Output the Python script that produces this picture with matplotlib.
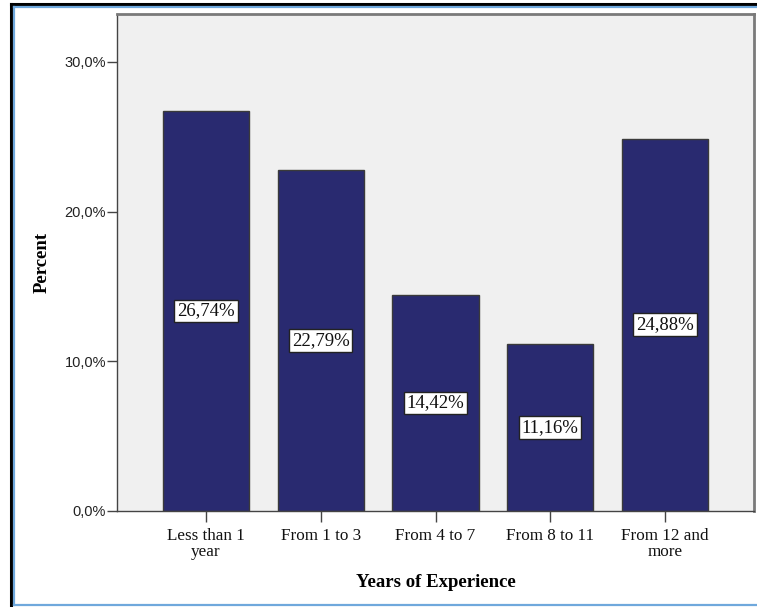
import matplotlib.pyplot as plt
from matplotlib.lines import Line2D

# Years of experience distribution
categories = ["Less than 1\nyear", "From 1 to 3", "From 4 to 7", "From 8 to 11", "From 12 and\nmore"]
percents = [26.74, 22.79, 14.42, 11.16, 24.88]
y_ticks = [0, 10, 20, 30]

W, H = 757, 607
BAR_COLOR = "#292a70"
PANEL_COLOR = "#f0f0f0"
SERIF = "Liberation Serif"
SANS = "Liberation Sans"

fig = plt.figure(figsize=(W / 100, H / 100), dpi=100)
fig.patch.set_facecolor("white")


def fy(y):
    """Pixel row (from the top) to figure fraction."""
    return 1 - y / H


# outer frame: black rule with a light blue inner rule
fig.add_artist(Line2D([11 / W, 11 / W], [0, fy(4)], color="black", lw=2.2))
fig.add_artist(Line2D([11 / W, 1], [fy(4)] * 2, color="black", lw=2.2))
fig.add_artist(Line2D([14 / W, 14 / W], [fy(605), fy(7)], color="#6fa8dc", lw=1.6))
fig.add_artist(Line2D([14 / W, 1], [fy(7)] * 2, color="#6fa8dc", lw=1.6))
fig.add_artist(Line2D([14 / W, 1], [fy(605)] * 2, color="#6fa8dc", lw=1.6))

left, right, top, bottom = 117, 754, 14, 511
ax = fig.add_axes([left / W, fy(bottom), (right - left) / W, (bottom - top) / H])
ax.set_facecolor(PANEL_COLOR)

x = list(range(len(categories)))
ax.bar(x, percents, width=0.75, color=BAR_COLOR, edgecolor="#3a3a3a", linewidth=1.0, zorder=2)

for xi, v in zip(x, percents):
    ax.text(xi, v / 2, f"{v:.2f}%".replace(".", ","), ha="center", va="center",
            family=SERIF, fontsize=13.5, color="#111111", zorder=3,
            bbox=dict(boxstyle="square,pad=0.15", facecolor="white", edgecolor="#222222", linewidth=1.0))

ax.set_xlim(-0.776, 4.776)
ax.set_ylim(0, 33.2)

ax.set_yticks(y_ticks)
ax.set_yticklabels([f"{t:.1f}%".replace(".", ",") for t in y_ticks], family=SANS, fontsize=10.5, color="#222222")
ax.set_xticks(x)
ax.set_xticklabels(categories, family=SERIF, fontsize=12.3, color="#111111", linespacing=1.05)
ax.tick_params(axis="y", direction="out", length=7, width=1.0, color="#444444", pad=1)
ax.tick_params(axis="x", direction="out", length=8, width=1.0, color="#444444", pad=4)

for side in ("left", "bottom"):
    ax.spines[side].set_color("#444444")
    ax.spines[side].set_linewidth(1.0)
for side in ("top", "right"):
    ax.spines[side].set_color("#7a7a7a")
    ax.spines[side].set_linewidth(2.0)

ax.set_xlabel("Years of Experience", family=SERIF, fontsize=13.5, fontweight="bold", labelpad=10)
ax.set_ylabel("Percent", family=SERIF, fontsize=13.5, fontweight="bold", labelpad=10)

fig.savefig("out.png", dpi=100)
